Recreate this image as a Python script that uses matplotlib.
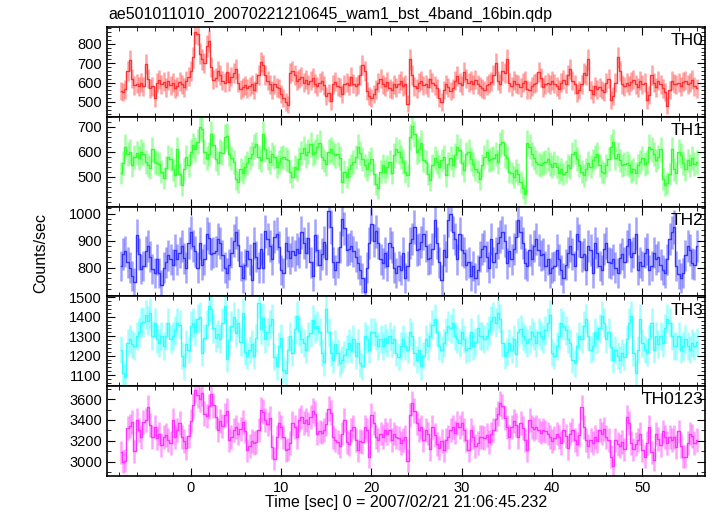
import numpy as np
import matplotlib
matplotlib.use("Agg")
import matplotlib.pyplot as plt
from matplotlib.ticker import MultipleLocator

plt.rcParams['font.family'] = ['Liberation Sans', 'DejaVu Sans']

# light curve: 0.25 s bins, first bin centre at -7.75 s
t_first = -7.75
dt = 0.25

th0 = [555, 550, 565, 660, 715, 620, 585, 595, 580, 600, 580, 695, 620, 570, 580, 520,
       600, 615, 590, 605, 575, 610, 585, 600, 570, 580, 605, 590, 575, 610, 630, 660,
       730, 860, 850, 750, 720, 700, 790, 815, 680, 615, 625, 660, 640, 610, 600, 655,
       605, 630, 650, 670, 600, 565, 575, 585, 570, 580, 590, 560, 600, 640, 705, 690,
       640, 610, 590, 560, 590, 575, 570, 540, 520, 500, 485, 650, 660, 640, 610, 620,
       630, 600, 615, 590, 610, 625, 595, 580, 600, 610, 585, 530, 545, 505, 590, 605,
       580, 575, 540, 590, 600, 585, 630, 595, 580, 590, 640, 690, 660, 555, 530, 520,
       540, 565, 600, 620, 590, 580, 605, 570, 560, 590, 575, 595, 610, 580, 590, 490,
       720, 640, 580, 570, 600, 610, 585, 590, 575, 620, 600, 585, 570, 520, 500, 560,
       590, 575, 555, 570, 610, 635, 600, 585, 655, 620, 600, 610, 590, 615, 590, 580,
       570, 560, 585, 595, 605, 640, 700, 610, 595, 660, 650, 720, 600, 580, 610, 595,
       590, 575, 600, 610, 565, 560, 580, 595, 600, 655, 625, 575, 590, 600, 590, 610,
       595, 580, 565, 600, 615, 595, 640, 670, 610, 590, 545, 560, 590, 650, 640, 720,
       560, 540, 580, 565, 575, 560, 550, 600, 620, 510, 530, 600, 730, 660, 590, 580,
       600, 585, 605, 615, 590, 575, 610, 590, 600, 510, 535, 640, 600, 575, 610, 590,
       570, 550, 480, 560, 610, 595, 590, 600, 580, 605, 610, 590, 600, 615, 580, 570]

th1 = [515, 555, 620, 590, 600, 545, 580, 595, 575, 600, 590, 560, 545, 535, 610, 560,
       555, 550, 520, 495, 535, 580, 570, 530, 505, 610, 510, 465, 530, 580, 545, 600,
       625, 610, 640, 700, 690, 600, 575, 590, 670, 625, 570, 555, 600, 595, 660, 665,
       590, 575, 560, 490, 480, 530, 515, 540, 555, 575, 590, 620, 630, 580, 565, 670,
       610, 575, 560, 590, 580, 540, 560, 575, 580, 570, 565, 520, 500, 540, 530, 570,
       595, 615, 585, 600, 630, 590, 600, 620, 635, 580, 565, 550, 600, 610, 595, 585,
       590, 575, 480, 520, 500, 530, 545, 560, 580, 620, 595, 570, 545, 530, 555, 570,
       510, 470, 455, 520, 545, 520, 540, 560, 515, 585, 610, 600, 580, 560, 520, 505,
       660, 705, 670, 600, 610, 635, 565, 560, 510, 485, 545, 575, 560, 540, 565, 580,
       505, 550, 575, 545, 585, 620, 605, 555, 525, 590, 600, 570, 550, 530, 520, 490,
       545, 580, 600, 565, 570, 575, 590, 560, 630, 640, 585, 575, 520, 515, 500, 525,
       510, 480, 455, 430, 635, 620, 590, 575, 560, 550, 545, 555, 560, 570, 550, 540,
       555, 540, 515, 530, 510, 520, 545, 535, 590, 600, 570, 545, 520, 505, 530, 555,
       540, 565, 580, 590, 545, 520, 515, 545, 570, 620, 640, 575, 590, 565, 545, 550,
       555, 545, 520, 530, 515, 545, 560, 575, 550, 560, 620, 610, 590, 565, 580, 610,
       490, 465, 475, 510, 610, 530, 515, 600, 585, 555, 530, 565, 545, 575, 550, 560]

th2 = [805, 850, 860, 820, 800, 770, 745, 920, 850, 795, 805, 860, 880, 840, 795, 780,
       830, 780, 735, 800, 820, 845, 830, 810, 865, 830, 855, 880, 835, 800, 890, 930,
       880, 860, 800, 890, 810, 830, 925, 910, 850, 855, 860, 905, 890, 845, 800, 780,
       810, 855, 900, 930, 885, 805, 760, 810, 860, 830, 755, 890, 840, 800, 870, 800,
       935, 905, 880, 830, 915, 925, 875, 790, 780, 890, 860, 835, 860, 845, 870, 855,
       930, 890, 855, 910, 820, 770, 920, 865, 810, 850, 895, 830, 1010, 950, 820, 790,
       820, 875, 980, 945, 865, 870, 880, 860, 840, 815, 790, 760, 710, 800, 890, 960,
       900, 935, 890, 830, 815, 855, 805, 890, 875, 800, 780, 805, 790, 855, 760, 805,
       890, 905, 950, 865, 870, 895, 925, 880, 830, 835, 870, 975, 890, 820, 755, 865,
       840, 975, 1000, 930, 905, 830, 925, 865, 855, 810, 820, 770, 805, 760, 790, 840,
       870, 880, 840, 800, 905, 820, 855, 890, 915, 930, 900, 815, 860, 830, 870, 915,
       975, 930, 890, 815, 805, 865, 830, 880, 905, 865, 845, 850, 805, 830, 780, 800,
       805, 865, 830, 790, 760, 810, 855, 880, 850, 805, 925, 900, 840, 850, 790, 880,
       865, 780, 890, 855, 805, 790, 870, 890, 820, 815, 830, 800, 780, 835, 850, 820,
       880, 905, 840, 855, 925, 790, 820, 805, 855, 870, 790, 805, 855, 830, 840, 810,
       790, 780, 830, 905, 930, 950, 805, 775, 760, 780, 845, 880, 865, 815, 810, 880]

th3 = [1230, 1110, 1090, 1265, 1285, 1260, 1250, 1300, 1320, 1370, 1375, 1410, 1380, 1420, 1300, 1370,
       1285, 1265, 1300, 1250, 1300, 1370, 1285, 1300, 1330, 1370, 1360, 1200, 1145, 1260, 1230, 1355,
       1370, 1320, 1390, 1400, 1215, 1290, 1360, 1455, 1440, 1340, 1290, 1310, 1285, 1370, 1455, 1185,
       1280, 1355, 1400, 1315, 1370, 1270, 1420, 1220, 1200, 1230, 1260, 1200, 1290, 1470, 1335, 1395,
       1285, 1320, 1360, 1390, 1195, 1145, 1250, 1290, 1125, 1110, 1230, 1300, 1215, 1335, 1405, 1325,
       1285, 1265, 1230, 1300, 1315, 1385, 1340, 1355, 1320, 1215, 1165, 1440, 1320, 1215, 1180, 1260,
       1215, 1160, 1180, 1205, 1235, 1265, 1230, 1285, 1200, 1265, 1160, 1145, 1300, 1285, 1230, 1320,
       1320, 1300, 1250, 1285, 1250, 1290, 1265, 1300, 1265, 1285, 1215, 1195, 1250, 1285, 1250, 1230,
       1320, 1300, 1215, 1180, 1230, 1145, 1200, 1285, 1250, 1300, 1360, 1390, 1320, 1250, 1230, 1265,
       1320, 1355, 1340, 1370, 1300, 1285, 1265, 1320, 1285, 1230, 1240, 1320, 1250, 1270, 1340, 1300,
       1300, 1285, 1300, 1330, 1380, 1400, 1370, 1420, 1390, 1265, 1200, 1220, 1265, 1230, 1285, 1210,
       1320, 1335, 1300, 1285, 1265, 1285, 1320, 1300, 1265, 1320, 1300, 1285, 1330, 1370, 1410, 1215,
       1200, 1250, 1300, 1370, 1355, 1330, 1285, 1265, 1180, 1160, 1250, 1300, 1285, 1355, 1390, 1300,
       1230, 1250, 1320, 1285, 1340, 1405, 1370, 1285, 1320, 1245, 1180, 1230, 1200, 1180, 1215, 1195,
       1285, 1370, 1405, 1215, 1110, 1230, 1390, 1265, 1230, 1215, 1285, 1370, 1230, 1300, 1260, 1300,
       1265, 1340, 1390, 1370, 1300, 1250, 1250, 1300, 1230, 1250, 1285, 1250, 1230, 1265, 1250, 1270]

th0123 = [3090, 3000, 3010, 3320, 3340, 3380, 3100, 3400, 3300, 3240, 3380, 3400, 3520, 3350, 3240, 3330,
          3230, 3270, 3160, 3240, 3260, 3210, 3180, 3400, 3240, 3300, 3370, 3240, 3200, 3130, 3250, 3390,
          3540, 3690, 3640, 3600, 3660, 3460, 3440, 3530, 3650, 3540, 3430, 3300, 3390, 3340, 3450, 3490,
          3210, 3240, 3300, 3330, 3270, 3310, 3380, 3290, 3110, 3150, 3200, 3180, 3190, 3300, 3500, 3480,
          3400, 3360, 3420, 3140, 3030, 3240, 3370, 3330, 3240, 3110, 3120, 3180, 3370, 3330, 3240, 3400,
          3430, 3370, 3400, 3360, 3430, 3490, 3460, 3270, 3290, 3280, 3300, 3360, 3510, 3470, 3240, 3210,
          3190, 3150, 3270, 3400, 3190, 3170, 3300, 3330, 3210, 3110, 3200, 3190, 3330, 3300, 3050, 3450,
          3370, 3240, 3210, 3270, 3240, 3300, 3270, 3300, 3210, 3270, 3240, 3225, 3180, 3210, 3240, 3010,
          3450, 3560, 3490, 3370, 3300, 3330, 3210, 3300, 3270, 3120, 3330, 3260, 3170, 3130, 3200, 3110,
          3210, 3240, 3300, 3330, 3280, 3370, 3330, 3370, 3300, 3210, 3110, 3300, 3240, 3150, 3180, 3240,
          3240, 3230, 3260, 3190, 3270, 3300, 3410, 3460, 3560, 3530, 3420, 3330, 3240, 3330, 3390, 3350,
          3240, 3370, 3320, 3210, 3110, 3400, 3330, 3310, 3330, 3300, 3280, 3300, 3290, 3270, 3240, 3200,
          3230, 3270, 3240, 3180, 3300, 3250, 3130, 3270, 3300, 3210, 3170, 3260, 3520, 3330, 3210, 3150,
          3210, 3180, 3240, 3200, 3300, 3270, 3310, 3240, 3210, 3050, 2960, 3210, 3170, 3150, 3190, 3120,
          3430, 3370, 3180, 3120, 3170, 3210, 3270, 3110, 3050, 3180, 3330, 3090, 3020, 3270, 3220, 3160,
          3290, 3240, 3180, 3240, 3210, 3240, 3140, 3290, 3150, 3050, 3050, 3180, 3270, 3250, 3180, 3210]

bands = ['TH0', 'TH1', 'TH2', 'TH3', 'TH0123']
series = [th0, th1, th2, th3, th0123]
colors = ['#ff3333', '#33ff33', '#3333ff', '#33ffff', '#ff33ff']
ylims = [(423, 887), (380, 740), (693, 1026), (1043, 1505), (2863, 3724)]
yticks = [[500, 600, 700, 800], [500, 600, 700], [800, 900, 1000],
          [1100, 1200, 1300, 1400, 1500], [3000, 3200, 3400, 3600]]
yminor = [20, 20, 20, 20, 100]

fig, axes = plt.subplots(5, 1, sharex=True, figsize=(7.17, 5.16), dpi=100)
fig.subplots_adjust(left=0.149, right=0.983, bottom=0.0775, top=0.9477, hspace=0)

for ax, name, vals, c, yl, yt, ym in zip(axes, bands, series, colors, ylims, yticks, yminor):
    v = np.array(vals, dtype=float)
    t = t_first + dt * np.arange(len(v))
    err = np.sqrt(v * dt) / dt
    # light vertical error bars, then the rate as a step line on top
    ax.errorbar(t, v, yerr=err, fmt='none', ecolor=c, elinewidth=1.8, alpha=0.45)
    ax.step(t, v, where='mid', color=c, lw=1.0)
    ax.set_ylim(*yl)
    ax.set_yticks(yt)
    ax.yaxis.set_minor_locator(MultipleLocator(ym))
    ax.text(0.997, 0.93, name, transform=ax.transAxes, ha='right', va='top', fontsize=12.5)
    ax.tick_params(which='both', direction='in', top=True, right=True, labelsize=10.5)
    ax.tick_params(which='major', length=6)
    ax.tick_params(which='minor', length=3)
    for sp in ax.spines.values():
        sp.set_linewidth(1.2)

axes[-1].set_xlim(-9.3, 56.9)
axes[-1].xaxis.set_major_locator(MultipleLocator(10))
axes[-1].xaxis.set_minor_locator(MultipleLocator(2))
axes[-1].set_xlabel('Time [sec] 0 = 2007/02/21 21:06:45.232', fontsize=11.5, labelpad=0)
fig.text(0.057, 0.51, 'Counts/sec', rotation=90, ha='center', va='center', fontsize=11.5)
fig.text(0.151, 0.972, 'ae501011010_20070221210645_wam1_bst_4band_16bin.qdp',
         ha='left', va='center', fontsize=11.5)

fig.savefig('out.png', dpi=100)
